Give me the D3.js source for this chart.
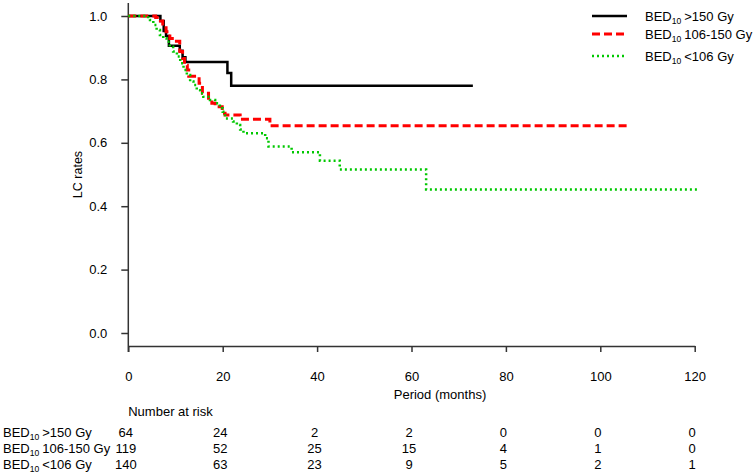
<!DOCTYPE html>
<html><head><meta charset="utf-8">
<script src="https://cdn.jsdelivr.net/npm/d3@7"></script>
<style>body{margin:0;background:#fff}svg{display:block;font-family:"Liberation Sans",Arial,sans-serif}</style>
</head><body><svg id="c" width="755" height="474"></svg>
<script>
// ---- data ----
const seriesNames = [">150 Gy", "106-150 Gy", "<106 Gy"];
const blackTimes = [0, 6.8, 7.5, 8.0, 8.6, 10.9, 11.5, 12.1, 21.0, 21.8, 73];
const blackSurv  = [1.0, 0.984, 0.953, 0.937, 0.906, 0.89, 0.87, 0.855, 0.82, 0.78, 0.78];
const redTimes = [0, 5.8, 6.8, 7.3, 8.0, 8.8, 9.8, 10.9, 11.5, 11.9, 12.5, 12.8, 15.0, 15.7, 17.0, 17.7, 18.4, 19.9, 20.5, 23.7, 30.0, 106];
const redSurv  = [1.0, 0.995, 0.984, 0.968, 0.95, 0.929, 0.92, 0.888, 0.866, 0.845, 0.83, 0.81, 0.788, 0.756, 0.735, 0.725, 0.714, 0.693, 0.688, 0.674, 0.654, 0.654];
const greenTimes = [0, 4.2, 4.6, 5.3, 6.0, 6.7, 7.4, 8.1, 8.8, 9.5, 10.3, 11.0, 11.7, 12.4, 13.1, 13.8, 14.5, 15.2, 15.9, 17.3, 18.4, 19.4, 20.0, 20.5, 22.2, 23.0, 23.7, 24.4, 29.0, 29.7, 34.6, 40.6, 44.8, 63.1, 121];
const greenSurv  = [1.0, 0.993, 0.987, 0.972, 0.956, 0.94, 0.93, 0.919, 0.903, 0.888, 0.872, 0.851, 0.83, 0.814, 0.793, 0.782, 0.766, 0.756, 0.745, 0.735, 0.725, 0.709, 0.698, 0.677, 0.667, 0.656, 0.642, 0.63, 0.614, 0.588, 0.57, 0.5435, 0.516, 0.453, 0.453];
const xTicks = [0, 20, 40, 60, 80, 100, 120];
const yTicks = [0.0, 0.2, 0.4, 0.6, 0.8, 1.0];
const riskBlack = [64, 24, 2, 2, 0, 0, 0];
const riskRed   = [119, 52, 25, 15, 4, 1, 0];
const riskGreen = [140, 63, 23, 9, 5, 2, 1];

// ---- drawing ----
const svg = d3.select("#c");
const x = d3.scaleLinear().domain([0, 120]).range([128.3, 694.7]);
const y = d3.scaleLinear().domain([0, 1]).range([333, 16]);
const axisY = 346;
const axisCol = "#333";

// x axis
const gx = svg.append("g").attr("transform", `translate(0,${axisY})`)
  .call(d3.axisBottom(x).tickValues(xTicks).tickSize(6).tickSizeOuter(0).tickPadding(20).tickFormat(d3.format("d")));
gx.select(".domain").attr("stroke", axisCol).attr("stroke-width", 1.5);
gx.selectAll(".tick line").attr("stroke", axisCol).attr("stroke-width", 1.5);
gx.selectAll(".tick text").attr("font-size", 13).attr("fill", "#000").attr("font-family", "Liberation Sans, Arial");

// y axis
const gy = svg.append("g").attr("transform", `translate(${x(0)},0)`)
  .call(d3.axisLeft(y).tickValues(yTicks).tickSize(7).tickSizeOuter(0).tickPadding(14).tickFormat(d3.format(".1f")));
gy.select(".domain").remove();
gy.selectAll(".tick line").attr("stroke", axisCol).attr("stroke-width", 1.5);
gy.selectAll(".tick text").attr("font-size", 13).attr("fill", "#000").attr("font-family", "Liberation Sans, Arial");
svg.append("line").attr("x1", x(0)).attr("x2", x(0)).attr("y1", 3).attr("y2", axisY + 6)
  .attr("stroke", axisCol).attr("stroke-width", 1.5);

svg.append("text").attr("transform", `translate(82,${(y(0)+y(1))/2}) rotate(-90)`)
  .attr("text-anchor", "middle").attr("font-size", 12.5).text("LC rates");
svg.append("text").attr("x", 440).attr("y", 399).attr("text-anchor", "middle")
  .attr("font-size", 13).text("Period (months)");

// curves
const line = d3.line().x(d => x(d[0])).y(d => y(d[1])).curve(d3.curveStepAfter);
const series = [
  {t: blackTimes, s: blackSurv, color: "#000", dash: null, w: 2.5},
  {t: redTimes, s: redSurv, color: "#ff0000", dash: "8,4", w: 3},
  {t: greenTimes, s: greenSurv, color: "#00c800", dash: "2,3", w: 2.5}
];
series.forEach(se => {
  const pts = se.t.map((t, i) => [t, se.s[i]]);
  const p = svg.append("path").attr("d", line(pts)).attr("fill", "none")
    .attr("stroke", se.color).attr("stroke-width", se.w);
  if (se.dash) p.attr("stroke-dasharray", se.dash);
});

// label with subscript
function bedLabel(sel, xPos, yPos, suffix, size) {
  const t = sel.append("text").attr("x", xPos).attr("y", yPos).attr("font-size", size);
  t.append("tspan").text("BED");
  t.append("tspan").attr("font-size", size * 0.66).attr("dy", 3).text("10");
  t.append("tspan").attr("dy", -3).attr("dx", 3).text(suffix);
  return t;
}

// legend
const legY = [16, 34, 56];
series.forEach((se, i) => {
  const l = svg.append("line").attr("x1", 592).attr("x2", 627).attr("y1", legY[i]).attr("y2", legY[i])
    .attr("stroke", se.color).attr("stroke-width", se.w);
  if (se.dash) l.attr("stroke-dasharray", se.dash);
  bedLabel(svg, 645, legY[i] + 5, seriesNames[i], 13);
});

// risk table
svg.append("text").attr("x", 170.5).attr("y", 416).attr("text-anchor", "middle")
  .attr("font-size", 13).text("Number at risk");
const rowY = [437, 453, 469];
[riskBlack, riskRed, riskGreen].forEach((row, i) => {
  bedLabel(svg, 3, rowY[i], seriesNames[i], 13);
  row.forEach((v, j) => {
    svg.append("text").attr("x", x(xTicks[j]) - 2.5).attr("y", rowY[i])
      .attr("text-anchor", "middle").attr("font-size", 13).text(v);
  });
});
</script></body></html>
